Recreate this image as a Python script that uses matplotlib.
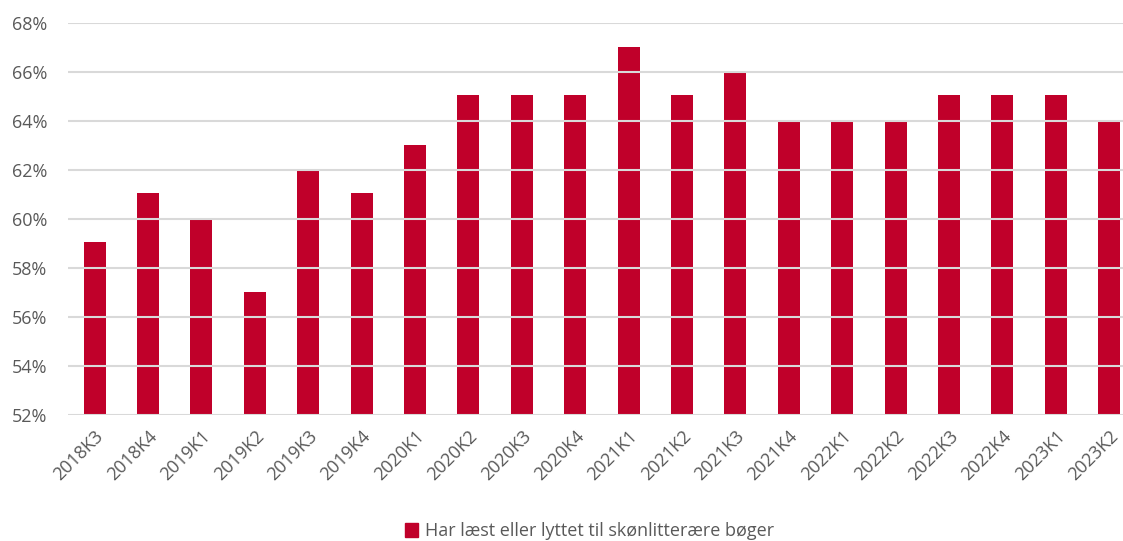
import matplotlib.pyplot as plt
from matplotlib.ticker import FuncFormatter
from matplotlib.patches import Patch

plt.rcParams['font.family'] = ['Open Sans', 'DejaVu Sans']

quarters = ['2018K3', '2018K4', '2019K1', '2019K2', '2019K3', '2019K4', '2020K1',
            '2020K2', '2020K3', '2020K4', '2021K1', '2021K2', '2021K3', '2021K4',
            '2022K1', '2022K2', '2022K3', '2022K4', '2023K1', '2023K2']
share = [59.05, 61.05, 60.05, 57, 62, 61.05, 63, 65.05, 65.05, 65.05, 67,
         65.05, 66.05, 64.05, 64.05, 64.05, 65.05, 65.05, 65.05, 64.05]
series_name = 'Har læst eller lyttet til skønlitterære bøger'

bar_color = '#C0002A'
text_color = '#595959'

fig = plt.figure(figsize=(11.23, 5.41), dpi=100)
ax = fig.add_axes([0.0605, 0.233, 0.951, 0.7246])

x = range(len(quarters))
ax.bar(x, share, width=0.41, color=bar_color, zorder=1)

ax.set_ylim(52, 68)
ax.set_yticks(range(52, 69, 2))
ax.yaxis.set_major_formatter(FuncFormatter(lambda v, p: f'{v:.0f}%'))
ax.set_xlim(-0.5, len(quarters) - 0.5)
ax.set_xticks(list(x))
ax.set_xticklabels(quarters, rotation=45, ha='right', rotation_mode='anchor')

# gridlines sit on top of the bars, like in the original
ax.grid(axis='y', color='#D9D9D9', linewidth=1.5, zorder=3)
ax.set_axisbelow(False)
for s in ax.spines.values():
    s.set_visible(False)
ax.tick_params(axis='both', length=0, labelsize=13, colors=text_color)
ax.tick_params(axis='y', pad=15)
ax.tick_params(axis='x', pad=9)

fig.legend(handles=[Patch(color=bar_color, label=series_name)],
           loc='center', bbox_to_anchor=(0.525, 0.018), frameon=False,
           fontsize=13, labelcolor=text_color, handlelength=0.75, handleheight=0.75,
           handletextpad=0.4)

fig.savefig('out.png', dpi=100)
